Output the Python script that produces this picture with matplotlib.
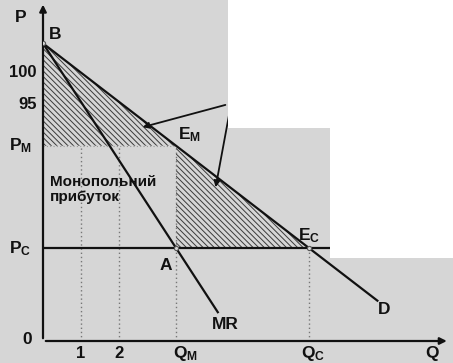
"""Monopoly vs competition diagram: demand, marginal revenue and deadweight loss."""

import matplotlib

matplotlib.use("Agg")
import matplotlib.pyplot as plt
from matplotlib.patches import Polygon, Rectangle

plt.rcParams["font.family"] = ["Liberation Sans", "DejaVu Sans"]
plt.rcParams["mathtext.fontset"] = "custom"
plt.rcParams["mathtext.rm"] = "Liberation Sans"
plt.rcParams["mathtext.bf"] = "Liberation Sans:bold"
plt.rcParams["mathtext.it"] = "Liberation Sans"
plt.rcParams["hatch.linewidth"] = 0.7

# values (schematic units)
Q_TICKS = [1, 2]
P_TICKS = [95, 100]
DEMAND_Q = [0.0, 8.8]
DEMAND_P = [104.5, 64.3]
MR_Q = [0.0, 4.6]
MR_P = [104.5, 62.5]
Q_M = 3.5
Q_C = 7.0
P_M = 88.5
P_C = 72.5
P_C_LINE_END = 8.3

INK = "#111111"
SCAN_GREY = "#d6d6d6"


def main():
    figure = plt.figure(figsize=(4.53, 3.63), dpi=100)
    figure.patch.set_facecolor(SCAN_GREY)
    # white areas of the scanned page (top right)
    figure.patches.append(Rectangle((228 / 453, 1 - 128 / 363), 225 / 453, 128 / 363,
                                    transform=figure.transFigure, facecolor="white",
                                    edgecolor="none", zorder=0))
    figure.patches.append(Rectangle((330 / 453, 1 - 258 / 363), 123 / 453, 258 / 363,
                                    transform=figure.transFigure, facecolor="white",
                                    edgecolor="none", zorder=0))

    axis = figure.add_axes([43 / 453, 22 / 363, 410 / 453, 341 / 363])
    axis.set_xlim(0, 410 / 38)
    axis.set_ylim(58, 58 + 341 / 6.4)
    axis.patch.set_alpha(0)
    axis.axis("off")

    # axes with arrows
    axis.annotate("", xy=(0, 111.0), xytext=(0, 58), xycoords="data",
                  arrowprops=dict(arrowstyle="-|>", color=INK, lw=1.6, mutation_scale=10),
                  annotation_clip=False)
    axis.annotate("", xy=(10.7, 58), xytext=(0, 58),
                  arrowprops=dict(arrowstyle="-|>", color=INK, lw=1.6, mutation_scale=10),
                  annotation_clip=False)

    # hatched areas: consumer surplus under monopoly and deadweight loss
    demand_slope = (DEMAND_P[1] - DEMAND_P[0]) / (DEMAND_Q[1] - DEMAND_Q[0])
    p_at_qm = DEMAND_P[0] + demand_slope * Q_M
    p_at_qc = DEMAND_P[0] + demand_slope * Q_C
    hatch = "\\" * 6
    axis.add_patch(Polygon([(0, DEMAND_P[0]), (0, P_M), (Q_M, p_at_qm)], closed=True,
                           facecolor="none", edgecolor="#3a3a3a", hatch=hatch, lw=0))
    axis.add_patch(Polygon([(Q_M, p_at_qm), (Q_M, P_C), (Q_C, p_at_qc)], closed=True,
                           facecolor="none", edgecolor="#3a3a3a", hatch=hatch, lw=0))

    # dotted guides
    for q in Q_TICKS + [Q_M]:
        axis.plot([q, q], [58, P_M], color="#777777", lw=1.0, ls=(0, (1, 2)))
    axis.plot([Q_C, Q_C], [58, P_C], color="#777777", lw=1.0, ls=(0, (1, 2)))
    axis.plot([0, Q_M], [P_M, P_M], color="#999999", lw=0.8, ls=(0, (1, 2)))

    # curves
    axis.plot(DEMAND_Q, DEMAND_P, color=INK, lw=1.6)
    axis.plot(MR_Q, MR_P, color=INK, lw=1.6)
    axis.plot([0, P_C_LINE_END], [P_C, P_C], color=INK, lw=1.6)

    for q, p in [(0, DEMAND_P[0]), (Q_M, P_C), (Q_C, P_C)]:
        axis.plot(q, p, marker="o", ms=3, mfc=SCAN_GREY, mec="#555555", mew=0.8, zorder=5)

    # pointer arrows
    axis.annotate("", xy=(2.55, 91.3), xytext=(4.87, 95.0),
                  arrowprops=dict(arrowstyle="-|>", color=INK, lw=1.3, mutation_scale=9))
    axis.annotate("", xy=(4.53, 81.6), xytext=(4.92, 94.1),
                  arrowprops=dict(arrowstyle="-|>", color=INK, lw=1.3, mutation_scale=9))

    text_style = dict(color=INK, fontsize=12.5, fontweight="bold")
    axis.text(-0.6, 108.6, "P", ha="center", va="center", **text_style)
    axis.text(0.15, 105.9, "B", ha="left", va="center", **text_style)
    for p in P_TICKS:
        axis.text(-0.17, p, str(p), ha="right", va="center", color=INK, fontsize=12,
                  fontweight="bold")
    axis.text(-0.6, P_M, r"$\mathbf{P_M}$", ha="center", va="center", **text_style)
    axis.text(-0.6, P_C, r"$\mathbf{P_C}$", ha="center", va="center", **text_style)
    axis.text(-0.42, 58.2, "0", ha="center", va="center", **text_style)
    for q in Q_TICKS:
        axis.text(q, 56.1, str(q), ha="center", va="center", color=INK, fontsize=12,
                  fontweight="bold")
    axis.text(Q_M + 0.25, 56.0, r"$\mathbf{Q_M}$", ha="center", va="center", **text_style)
    axis.text(Q_C + 0.1, 56.0, r"$\mathbf{Q_C}$", ha="center", va="center", **text_style)
    axis.text(10.25, 56.0, "Q", ha="center", va="center", **text_style)
    axis.text(Q_M + 0.05, p_at_qm + 1.7, r"$\mathbf{E_M}$", ha="left", va="center", **text_style)
    axis.text(Q_C - 0.3, P_C + 2.0, r"$\mathbf{E_C}$", ha="left", va="center", **text_style)
    axis.text(Q_M - 0.28, P_C - 2.7, "A", ha="center", va="center", **text_style)
    axis.text(4.45, 60.6, "MR", ha="left", va="center", **text_style)
    axis.text(8.8, 63.0, "D", ha="left", va="center", **text_style)
    axis.text(0.18, 81.7, "Монопольний\nприбуток", ha="left", va="center",
              color=INK, fontsize=11, fontweight="bold", linespacing=1.05)

    figure.savefig("out.png", dpi=100, facecolor=figure.get_facecolor())
    plt.close(figure)


if __name__ == "__main__":
    main()
